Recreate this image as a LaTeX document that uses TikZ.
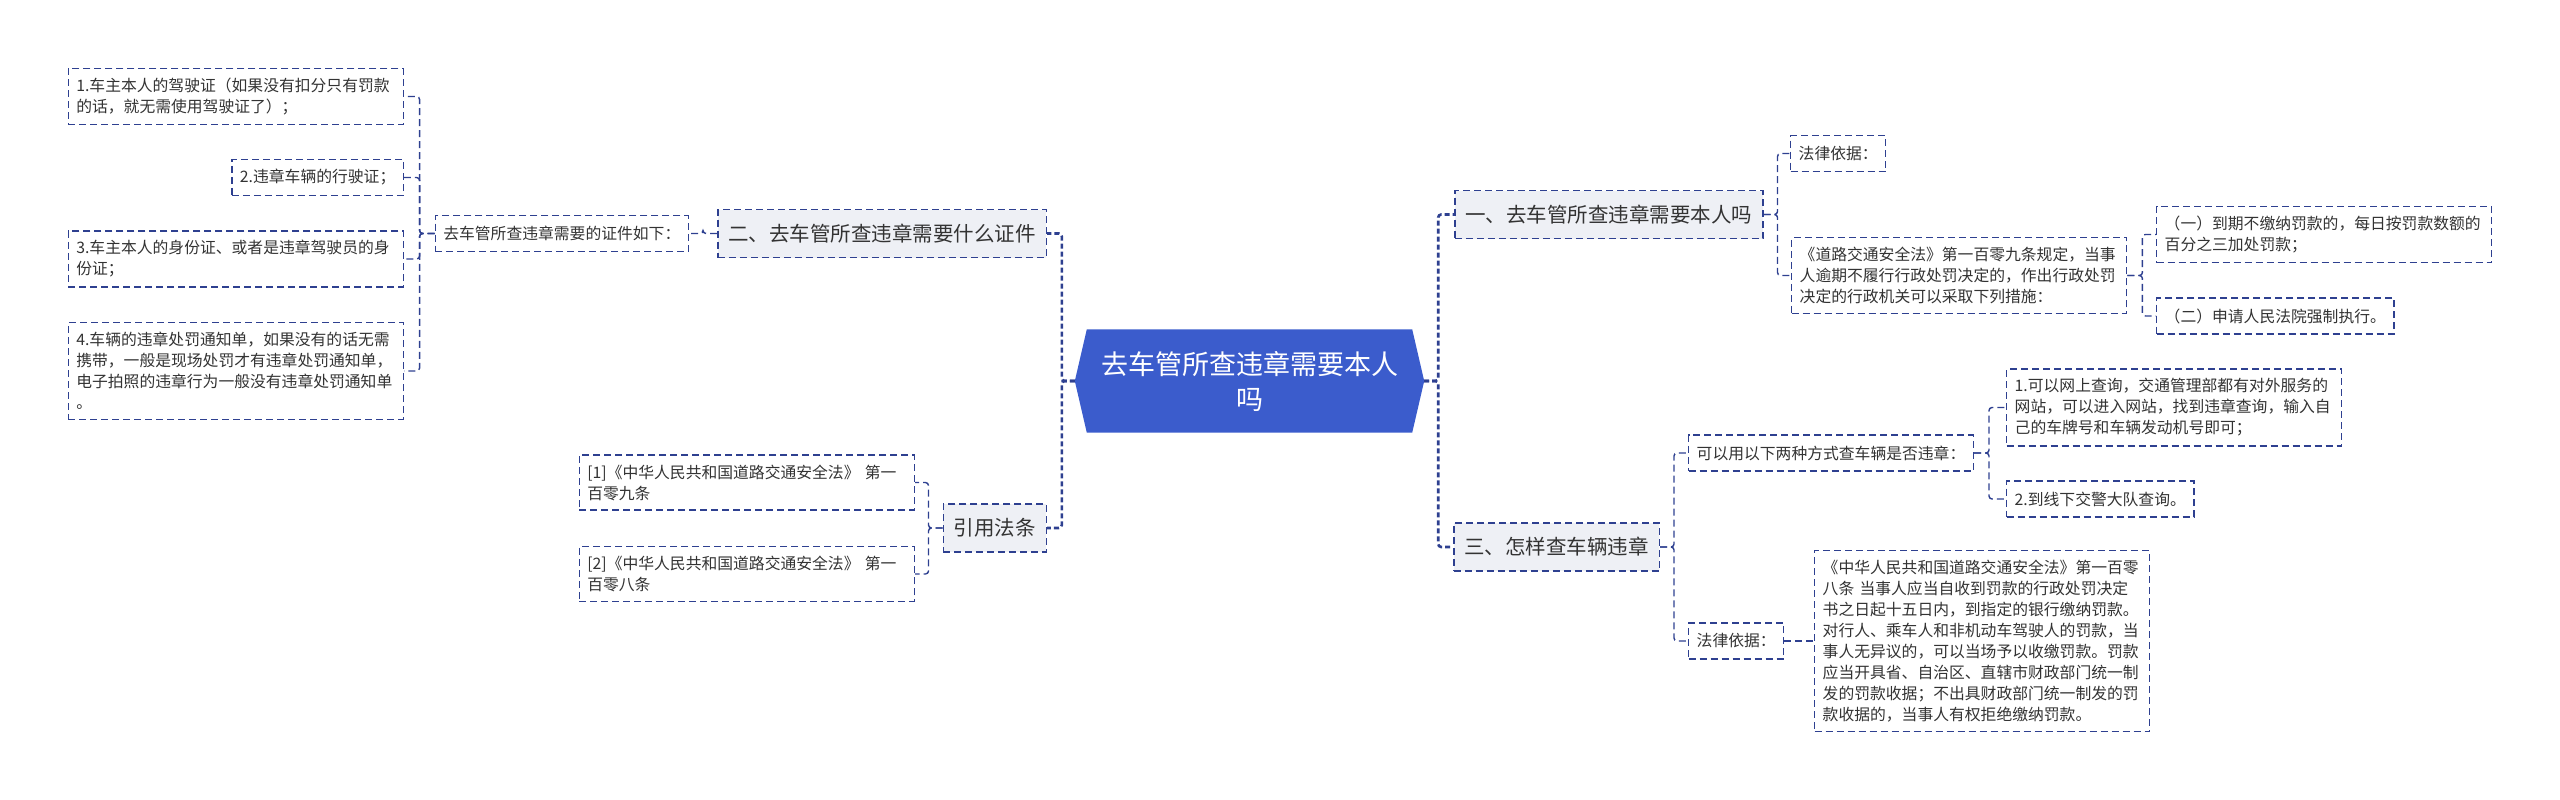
\documentclass[tikz,border=0pt]{standalone}
\usepackage{fontspec}
\setmainfont{Noto Sans CJK SC}
\usepackage{tikz}
\usetikzlibrary{positioning,backgrounds,calc}
\definecolor{royal}{HTML}{3B5CCC}
\definecolor{navy}{HTML}{2E4090}
\definecolor{mist}{HTML}{EEF0F5}
\definecolor{ink}{HTML}{333333}
\tikzset{
  rootbox/.style={
    rectangle, minimum width=325pt, minimum height=103pt,
    text=white, font=\fontsize{27}{35}\selectfont, align=center,
    inner sep=0pt
  },
  topicbox/.style={
    rectangle, draw=navy, fill=mist, line width=1.5pt,
    dash pattern=on 7pt off 4pt,
    minimum height=48pt, font=\fontsize{20.5}{26}\selectfont,
    text=ink, inner xsep=10.5pt
  },
  leafbox/.style={
    rectangle, draw=navy, fill=white, line width=1.4pt,
    dash pattern=on 7pt off 4pt,
    minimum height=36pt, font=\fontsize{15.8}{21}\selectfont,
    text=ink, align=left, inner xsep=8pt, inner ysep=9.5pt
  },
  widebox/.style={text width=319pt},
  mainlink/.style={
    draw=navy, line width=2.6pt, dash pattern=on 5pt off 3pt,
    rounded corners=3pt
  },
  link/.style={
    draw=navy, line width=1.4pt, dash pattern=on 7pt off 4pt,
    rounded corners=3pt
  },
}
\begin{document}
\begin{tikzpicture}[x=1pt, y=-1pt]
  \useasboundingbox (0,0) rectangle (2560,800);
  % centre
  \node[rootbox] (root) at (1249.5,381) {去车管所查违章需要本人\\吗};
  \begin{scope}[on background layer]
    \fill[royal] ([xshift=-12pt]root.west) -- (root.north west) -- (root.north east)
      -- ([xshift=12pt]root.east) -- (root.south east) -- (root.south west) -- cycle;
  \end{scope}
  \coordinate (rootL) at ([xshift=-12pt]root.west);
  \coordinate (rootR) at ([xshift=12pt]root.east);

  % first level
  \node[topicbox, anchor=east] (topic2) at (1047,233.5) {二、去车管所查违章需要什么证件};
  \node[topicbox, anchor=east] (cite) at (1047,528) {引用法条};
  \node[topicbox, anchor=west] (topic1) at (1454,214.5) {一、去车管所查违章需要本人吗};
  \node[topicbox, anchor=west] (topic3) at (1453,547) {三、怎样查车辆违章};
  \draw[mainlink] (rootL) -- ++(-13,0) |- (topic2.east);
  \draw[mainlink] (rootL) -- ++(-13,0) |- (cite.east);
  \draw[mainlink] (rootR) -- ++(14,0) |- (topic1.west);
  \draw[mainlink] (rootR) -- ++(14,0) |- (topic3.west);

  % left: documents
  \node[leafbox, anchor=east] (docs) at (689,233.5) {去车管所查违章需要的证件如下：};
  \node[leafbox, widebox, anchor=east] (doc1) at (404,96.5) {1.车主本人的驾驶证（如果没有扣分只有罚款\\的话，就无需使用驾驶证了）；};
  \node[leafbox, anchor=east] (doc2) at (404,177.5) {2.违章车辆的行驶证；};
  \node[leafbox, widebox, anchor=east] (doc3) at (404,259) {3.车主本人的身份证、或者是违章驾驶员的身\\份证；};
  \node[leafbox, widebox, anchor=east] (doc4) at (404,371) {4.车辆的违章处罚通知单，如果没有的话无需\\携带，一般是现场处罚才有违章处罚通知单，\\电子拍照的违章行为一般没有违章处罚通知单\\。};
  \draw[link] (topic2.west) -- ++(-14,0) |- (docs.east);
  \draw[link] (docs.west) -- ++(-15,0) |- (doc1.east);
  \draw[link] (docs.west) -- ++(-15,0) |- (doc2.east);
  \draw[link] (docs.west) -- ++(-15,0) |- (doc3.east);
  \draw[link] (docs.west) -- ++(-15,0) |- (doc4.east);

  % left: cited articles
  \node[leafbox, widebox, anchor=east] (ref1) at (915,482.5) {[1]《中华人民共和国道路交通安全法》 第一\\百零九条};
  \node[leafbox, widebox, anchor=east] (ref2) at (915,574) {[2]《中华人民共和国道路交通安全法》 第一\\百零八条};
  \draw[link] (cite.west) -- ++(-14,0) |- (ref1.east);
  \draw[link] (cite.west) -- ++(-14,0) |- (ref2.east);

  % right: in person
  \node[leafbox, anchor=west] (basis1) at (1790,153.5) {法律依据：};
  \node[leafbox, widebox, anchor=west] (law109) at (1791,275.5) {《道路交通安全法》第一百零九条规定，当事\\人逾期不履行行政处罚决定的，作出行政处罚\\决定的行政机关可以采取下列措施：};
  \node[leafbox, widebox, anchor=west] (fine1) at (2156,234.5) {（一）到期不缴纳罚款的，每日按罚款数额的\\百分之三加处罚款；};
  \node[leafbox, anchor=west] (fine2) at (2156,316) {（二）申请人民法院强制执行。};
  \draw[link] (topic1.east) -- ++(14,0) |- (basis1.west);
  \draw[link] (topic1.east) -- ++(14,0) |- (law109.west);
  \draw[link] (law109.east) -- ++(15,0) |- (fine1.west);
  \draw[link] (law109.east) -- ++(15,0) |- (fine2.west);

  % right: how to check
  \node[leafbox, anchor=west] (ways) at (1688,453) {可以用以下两种方式查车辆是否违章：};
  \node[leafbox, widebox, anchor=west] (way1) at (2006,407.5) {1.可以网上查询，交通管理部都有对外服务的\\网站，可以进入网站，找到违章查询，输入自\\己的车牌号和车辆发动机号即可；};
  \node[leafbox, anchor=west] (way2) at (2006,499) {2.到线下交警大队查询。};
  \node[leafbox, anchor=west] (basis2) at (1688,641) {法律依据：};
  \node[leafbox, widebox, anchor=west] (law108) at (1814,641) {《中华人民共和国道路交通安全法》第一百零\\八条 当事人应当自收到罚款的行政处罚决定\\书之日起十五日内，到指定的银行缴纳罚款。\\对行人、乘车人和非机动车驾驶人的罚款，当\\事人无异议的，可以当场予以收缴罚款。罚款\\应当开具省、自治区、直辖市财政部门统一制\\发的罚款收据；不出具财政部门统一制发的罚\\款收据的，当事人有权拒绝缴纳罚款。};
  \draw[link] (topic3.east) -- ++(14,0) |- (ways.west);
  \draw[link] (topic3.east) -- ++(14,0) |- (basis2.west);
  \draw[link] (ways.east) -- ++(15,0) |- (way1.west);
  \draw[link] (ways.east) -- ++(15,0) |- (way2.west);
  \draw[link] (basis2.east) -- (law108.west);
\end{tikzpicture}
\end{document}
